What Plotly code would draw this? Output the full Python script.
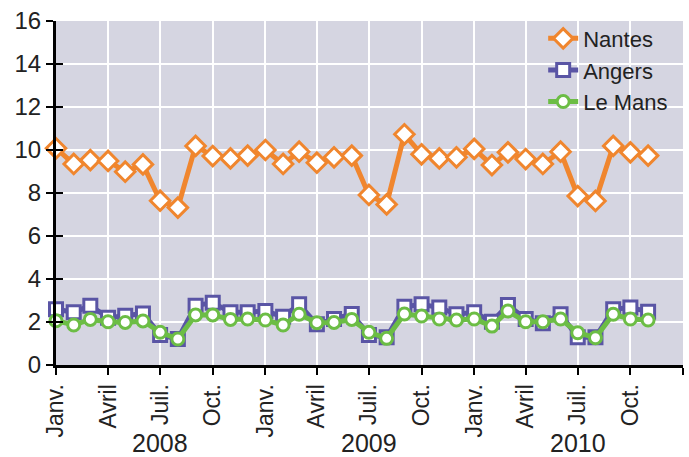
import pandas as pd
import plotly.graph_objects as go

# Monthly values, janv. 2008 -> nov. 2010
months = pd.date_range('2008-01-01', periods=35, freq='MS')

nantes = [10.08, 9.35, 9.53, 9.49, 8.99, 9.33, 7.64, 7.32, 10.19, 9.72, 9.61, 9.74,
          10.00, 9.35, 9.92, 9.41, 9.66, 9.74, 7.91, 7.47, 10.73, 9.80, 9.61, 9.66,
          10.05, 9.30, 9.89, 9.58, 9.35, 9.92, 7.86, 7.63, 10.19, 9.89, 9.74]
angers = [2.59, 2.45, 2.76, 2.20, 2.29, 2.40, 1.40, 1.21, 2.76, 2.90, 2.45, 2.45,
          2.51, 2.25, 2.82, 1.89, 2.14, 2.37, 1.40, 1.29, 2.71, 2.82, 2.67, 2.36,
          2.45, 2.01, 2.79, 2.14, 1.94, 2.36, 1.29, 1.29, 2.59, 2.67, 2.48]
le_mans = [2.06, 1.86, 2.12, 2.01, 1.98, 2.05, 1.52, 1.21, 2.33, 2.33, 2.12, 2.14,
           2.09, 1.86, 2.36, 1.97, 1.98, 2.12, 1.52, 1.24, 2.37, 2.28, 2.14, 2.09,
           2.14, 1.81, 2.51, 2.01, 2.01, 2.14, 1.50, 1.27, 2.36, 2.14, 2.09]

tick_dates = pd.date_range('2008-01-01', '2011-01-01', freq='QS')
tick_text = ['Janv.', 'Avril', 'Juil.', 'Oct.'] * 3 + ['Janv.']
years = ['2008', '2009', '2010']

font = 'Liberation Sans, Arial, sans-serif'
orange = '#f0862e'
purple = '#5a55a5'
green = '#6cbd45'

series = [
    ('Nantes', nantes, orange, 'diamond', 15),
    ('Angers', angers, purple, 'square', 13),
    ('Le Mans', le_mans, green, 'circle', 12),
]

fig = go.Figure()
for name, vals, color, symbol, size in series:
    fig.add_scatter(x=months, y=vals, name=name, mode='lines+markers', cliponaxis=False,
                    line=dict(color=color, width=5),
                    marker=dict(symbol=symbol, size=size, color='white',
                                line=dict(color=color, width=3)))

# empty trace so the overlay axes (inner half of the ticks) get drawn
fig.add_scatter(x=[], y=[], xaxis='x2', yaxis='y2', showlegend=False, hoverinfo='skip')

x_range = [tick_dates[0], tick_dates[-1]]
fig.update_layout(
    width=689, height=457,
    margin=dict(l=56, r=6, t=21, b=92),
    paper_bgcolor='white', plot_bgcolor='#d5d5e1',
    font=dict(family=font, size=23, color='#222222'),
    showlegend=True,
    legend=dict(x=0.777, xanchor='left', y=1.01, yanchor='top', bgcolor='rgba(0,0,0,0)',
                font=dict(size=22), tracegroupgap=0, itemwidth=30),
    xaxis=dict(range=x_range, tickvals=tick_dates, ticktext=tick_text, tickangle=-90,
               showgrid=True, gridcolor='white', gridwidth=2, automargin=False,
               ticks='outside', ticklen=7, tickwidth=2, tickcolor='black',
               showline=True, linecolor='black', linewidth=3, zeroline=False),
    yaxis=dict(range=[0, 16], dtick=2, showgrid=True, gridcolor='white', gridwidth=2,
               automargin=False, tickfont=dict(size=24),
               ticks='outside', ticklen=7, tickwidth=2, tickcolor='black',
               showline=True, linecolor='black', linewidth=3, zeroline=False),
    xaxis2=dict(range=x_range, tickvals=tick_dates, overlaying='x', anchor='y2',
                showticklabels=False, showgrid=False, zeroline=False,
                ticks='inside', ticklen=7, tickwidth=2, tickcolor='black'),
    yaxis2=dict(range=[0, 16], dtick=2, overlaying='y', anchor='x2',
                showticklabels=False, showgrid=False, zeroline=False,
                ticks='inside', ticklen=7, tickwidth=2, tickcolor='black'),
)

for yr in years:
    fig.add_annotation(x=pd.Timestamp(yr + '-07-01'), xref='x', y=0, yref='paper',
                       yanchor='top', yshift=-62, text=yr, showarrow=False,
                       font=dict(size=25))

# drop the page's default body margin so the figure sits at the window's corner
fig.write_html("out.html", config={'displayModeBar': False},
               post_script="document.body.style.margin = '0';")
